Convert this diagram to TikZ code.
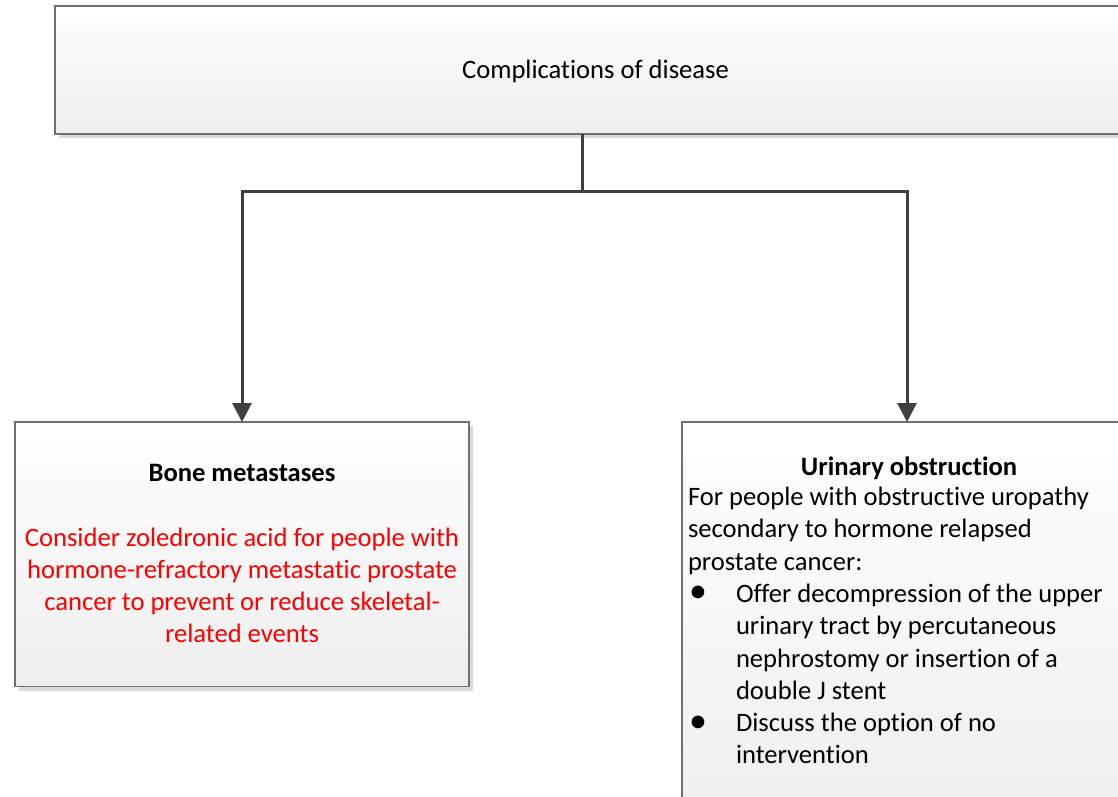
\documentclass[tikz,border=0pt]{standalone}
\usepackage{fontspec}
\setmainfont[RawFeature={-liga;-dlig;-clig}]{Carlito}
\usetikzlibrary{arrows.meta,shadows}
\definecolor{boxline}{HTML}{707070}
\definecolor{connline}{HTML}{404040}
\definecolor{boxbottom}{HTML}{EEEEEE}
\definecolor{shadowcol}{HTML}{DADADA}
\newcommand{\mybul}{\makebox[48pt][l]{\hspace{1pt}\raisebox{-0.5pt}{\scalebox{1.35}{\textbullet}}}}
\tikzset{
  panel/.style={rectangle, draw=boxline, line width=1.4pt, inner sep=0pt, outer sep=0pt,
    top color=white, bottom color=boxbottom,
    drop shadow={shadow xshift=4pt, shadow yshift=-4pt, fill=shadowcol, opacity=1}},
  txt/.style={inner sep=0pt, outer sep=0pt, font=\fontsize{26.6}{32.3}\selectfont},
  conn/.style={draw=connline, line width=3pt},
  arr/.style={conn, -{Triangle[length=19pt,width=19pt]}}
}
\begin{document}
\begin{tikzpicture}[x=1pt,y=-1pt]
\path[use as bounding box, clip] (0,0) rectangle (1118,796);
\fill[white] (0,0) rectangle (1118,796);
% boxes
\node[panel, minimum width=1080pt, minimum height=128pt] (top) at (595,70) {};
\node[panel, minimum width=454pt, minimum height=264.5pt] (bone) at (242,554.25) {};
\node[panel, minimum width=454pt, minimum height=410pt] (urin) at (909,627) {};
% texts
\node[txt, anchor=base] (toptxt) at (595.5,78.3) {Complications of disease};
\node[txt, anchor=base] (bonetitle) at (242,481.7) {\textbf{Bone metastases}};
\node[txt, anchor=base, text=red] (bonetxt) at (242,546) {\parbox[t]{450pt}{\centering
  Consider zoledronic acid for people with\\
  hormone-refractory metastatic prostate\\
  cancer to prevent or reduce skeletal-\\
  related events}};
\node[txt, anchor=base] (urintitle) at (909,475) {\textbf{Urinary obstruction}};
\node[txt, anchor=base west] (urintxt) at (688,505.5) {\parbox[t]{440pt}{\raggedright
  For people with obstructive uropathy\\
  secondary to hormone relapsed\\
  prostate cancer:\\
  \mybul Offer decompression of the upper\\
  \hspace*{48pt}urinary tract by percutaneous\\
  \hspace*{48pt}nephrostomy or insertion of a\\
  \hspace*{48pt}double J stent\\
  \mybul Discuss the option of no\\
  \hspace*{48pt}intervention}};
% connectors
\coordinate (j) at (582,191);
\draw[conn] (j |- top.south) -- (j);
\draw[arr] (j) -| (bone.north);
\draw[arr] (j) -| ([xshift=-2pt]urin.north);
\end{tikzpicture}
\end{document}
